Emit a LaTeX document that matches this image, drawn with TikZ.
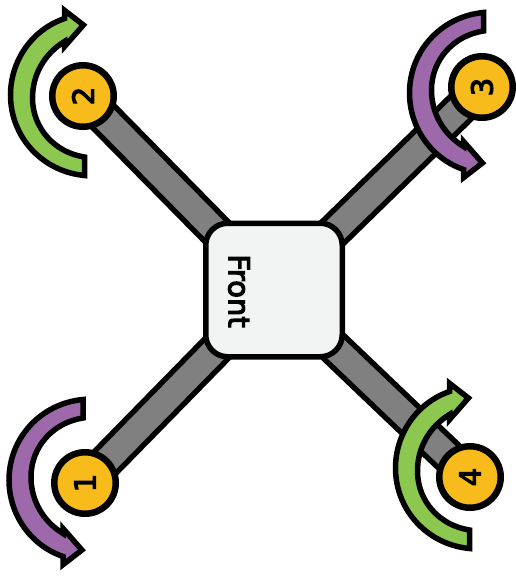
\documentclass[tikz,border=0pt]{standalone}
\usepackage{fontspec}
\setmainfont[FakeBold=4]{DejaVu Sans}
\definecolor{armgrey}{HTML}{808080}
\definecolor{boxfill}{HTML}{F2F4F4}
\definecolor{motoryellow}{HTML}{F7BB1B}
\definecolor{cwgreen}{HTML}{8CC850}
\definecolor{ccwpurple}{HTML}{9E69AB}
\tikzset{
  outline/.style={draw=black,line width=5.5pt,line join=miter,miter limit=10},
  armbar/.style={draw=black,line width=36pt,line cap=butt},
  armcore/.style={draw=armgrey,line width=25pt,line cap=butt},
  motor/.style={circle,draw=black,line width=6.5pt,fill=motoryellow,minimum size=61.5pt,inner sep=0pt,font=\fontsize{29}{29}\selectfont,text=black,rotate=90},
  body/.style={outline,rounded corners=22pt,fill=boxfill,minimum width=136.5pt,minimum height=133.5pt},
  arrowfill/.initial=black,
  turnarrow/.pic={
    \path[outline,fill=\pgfkeysvalueof{/tikz/arrowfill}]
      (84.5,175.5) .. controls (42.5,171.6) and (10.5,137.2) .. (10.5,95)
      .. controls (10.5,61.2) and (31.4,30) .. (64.5,18.5)
      -- (64.5,10.3) -- (83.4,25) -- (64.5,46.6) -- (64.5,41.5)
      .. controls (44.6,53.8) and (32.5,74.3) .. (32.5,98)
      .. controls (32.5,128.2) and (54.6,152.5) .. (84.5,157) -- cycle;
  }
}
\begin{document}
\begin{tikzpicture}[x=1pt,y=-1pt]
\useasboundingbox (0,0) rectangle (516,587);
\coordinate (hub) at (274,290);
\coordinate (c1) at (85,483);
\coordinate (c2) at (83,96);
\coordinate (c3) at (482,87);
\coordinate (c4) at (470,477);
\foreach \m in {c1,c2,c3,c4}{\draw[armbar] (hub) -- (\m);}
\foreach \m in {c1,c2,c3,c4}{\draw[armcore] (hub) -- (\m);}
\node[body] (frame) at (hub) {};
\node[rotate=-90,font=\fontsize{29}{29}\selectfont] (front) at (239,291) {Front};
\node[motor] (m1) at (c1) {1};
\node[motor] (m2) at (c2) {2};
\node[motor] (m3) at (c3) {3};
\node[motor] (m4) at (c4) {4};
\pic[arrowfill=cwgreen] (a2) at (0,0) {turnarrow};
\pic[arrowfill=cwgreen] (a4) at (385,373) {turnarrow};
\begin{scope}[yscale=-1]
\pic[arrowfill=ccwpurple,transform shape] (a1) at (-1.5,-575) {turnarrow};
\pic[arrowfill=ccwpurple,transform shape] (a3) at (399,-188) {turnarrow};
\end{scope}
\end{tikzpicture}
\end{document}
